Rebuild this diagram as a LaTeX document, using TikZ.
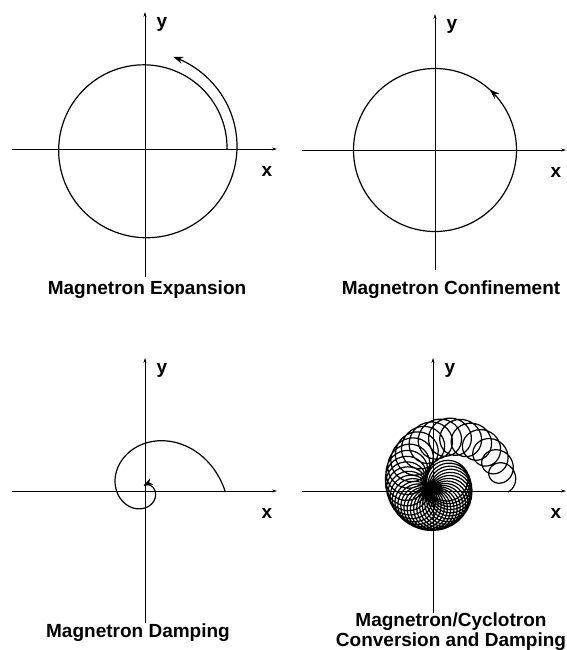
\documentclass[tikz,border=0pt]{standalone}
\usepackage{fontspec}
\setmainfont{Liberation Sans}
\usetikzlibrary{arrows.meta,positioning,decorations.markings}

\begin{document}
\begin{tikzpicture}[x=1pt,y=-1pt,
  axis/.style={line width=0.6pt,-{Stealth[length=5pt,width=3pt]}},
  orbit/.style={line width=1.2pt},
  lbl/.style={font=\fontsize{19}{19}\selectfont\bfseries},
  captext/.style={font=\fontsize{19}{20}\selectfont\bfseries,align=center},
  declare function={rexp(\t)=82+0.024*\t+4*(\t/432)^6;
    rdam(\t)=80*exp(-0.00576*\t);
    rmag(\t)=18+54*exp(-(\t/126)^2);
    rcyc(\t)=21-11*exp(-\t/46);}]
  \useasboundingbox (0,0) rectangle (567,650);
  % axes and x/y labels of the four panels
  \foreach \p/\ox/\oy/\xl/\xr/\yt/\yb in {exp/145/149/12/277/12/277,con/435/150/302/566/14/270,dam/145/491/12/277/358/623,cyc/433/491/302/566/358/613} {
    \coordinate (O\p) at (\ox,\oy);
    \coordinate (xl\p) at (\xl,\oy);
    \coordinate (xr\p) at (\xr,\oy);
    \coordinate (yt\p) at (\ox,\yt);
    \coordinate (yb\p) at (\ox,\yb);
    \draw[axis] (xl\p) -- (xr\p);
    \draw[axis] (yb\p) -- (yt\p);
    \node[lbl] (ylbl\p) at (\ox+17,\yt+12) {y};
    \node[lbl] (xlbl\p) at (\xr-10,\oy+22) {x};
  }
  % expansion: slowly growing orbit
  \begin{scope}[shift={(Oexp)},yscale=-1]
    \draw[orbit,-{Stealth[length=10pt,width=7pt]}] plot[domain=0:433,samples=220,variable=\t] ({rexp(\t)*cos(\t)},{rexp(\t)*sin(\t)});
  \end{scope}
  % confinement: closed orbit
  \begin{scope}[shift={(Ocon)},yscale=-1]
    \draw[orbit,postaction={decorate},decoration={markings,mark=at position 0.133 with {\arrow{Stealth[length=10pt,width=7pt]}}}] (0:81.5) arc[start angle=0,end angle=360,radius=81.5];
  \end{scope}
  % damping: shrinking spiral
  \begin{scope}[shift={(Odam)},yscale=-1]
    \draw[orbit,-{Stealth[length=9pt,width=7pt]}] plot[domain=0:462,samples=220,variable=\t] ({rdam(\t)*cos(\t)},{rdam(\t)*sin(\t)});
  \end{scope}
  % conversion: cyclotron loops riding on the magnetron spiral
  \begin{scope}[shift={(Ocyc)},yscale=-1]
    \draw[orbit] plot[domain=8:400,samples=1200,variable=\t] ({rmag(\t)*cos(\t)+rcyc(\t)*cos(36*mod(\t,10))},{rmag(\t)*sin(\t)+rcyc(\t)*sin(36*mod(\t,10))});
  \end{scope}
  \node[captext] (capexp) at (147,290) {Magnetron Expansion};
  \node[captext] (capcon) at (451,290) {Magnetron Confinement};
  \node[captext] (capdam) at (138,633) {Magnetron Damping};
  \node[captext] (capcyc) at (451,632) {Magnetron/Cyclotron\\Conversion and Damping};
\end{tikzpicture}
\end{document}
